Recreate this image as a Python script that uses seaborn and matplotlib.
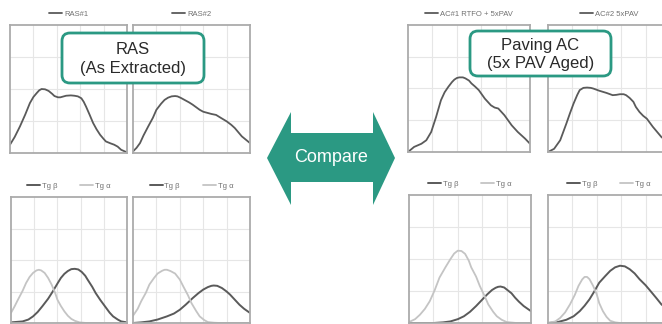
import numpy as np
import pandas as pd
import matplotlib
matplotlib.use("Agg")
import matplotlib.pyplot as plt
import seaborn as sns
from matplotlib.patches import Polygon, FancyBboxPatch

# ---- data (x: 0-100 across a panel, y: 0-4 grid rows) ----
ras1_x = [0, 4, 8.5, 13, 17, 20, 23, 25, 27, 30, 33, 36, 38, 41, 43, 46, 48, 52, 55, 58, 61, 63, 65, 68, 71, 74, 77, 80, 82, 86, 89, 92, 95, 100]
ras1_y = [0.26, 0.5, 0.83, 1.2, 1.56, 1.75, 1.88, 1.96, 2.0, 1.99, 1.94, 1.85, 1.78, 1.74, 1.74, 1.77, 1.79, 1.8, 1.79, 1.77, 1.71, 1.6, 1.45, 1.2, 0.94, 0.74, 0.57, 0.44, 0.36, 0.3, 0.26, 0.2, 0.10, 0.02]

ras2_x = [0, 3, 6, 9, 13, 17, 20, 24, 27, 30, 33, 36, 38, 41, 44, 48, 51, 54, 57, 60, 64, 67, 71, 75, 80, 84, 87, 90, 93, 97, 100]
ras2_y = [0.05, 0.16, 0.31, 0.55, 0.83, 1.1, 1.35, 1.54, 1.66, 1.73, 1.77, 1.78, 1.77, 1.72, 1.66, 1.58, 1.51, 1.43, 1.35, 1.29, 1.25, 1.22, 1.19, 1.1, 0.99, 0.88, 0.78, 0.65, 0.52, 0.4, 0.31]

ac1_x = [0, 5, 11, 15, 19, 23, 27, 30, 33, 36, 38, 40, 42, 45, 47, 50, 52, 55, 58, 63, 68, 71, 74, 79, 82, 85, 90, 96, 100]
ac1_y = [0.0, 0.16, 0.26, 0.37, 0.63, 1.1, 1.63, 1.88, 2.05, 2.2, 2.28, 2.33, 2.35, 2.35, 2.32, 2.25, 2.16, 2.06, 1.95, 1.68, 1.47, 1.4, 1.37, 1.16, 1.0, 0.84, 0.63, 0.42, 0.26]

ac2_x = [0, 5, 10, 15, 18, 21, 24, 26, 29, 32, 35, 37, 42, 48, 53, 56, 59, 62, 64, 67, 70, 72, 75, 78, 81, 86, 93, 100]
ac2_y = [0.0, 0.1, 0.37, 0.89, 1.22, 1.53, 1.8, 1.95, 2.02, 2.03, 2.02, 2.0, 1.93, 1.86, 1.79, 1.8, 1.82, 1.82, 1.79, 1.7, 1.58, 1.42, 1.26, 1.14, 1.05, 0.79, 0.47, 0.26]

# Tg curves for the four lower panels
ras1_beta_x = [0, 10, 15, 19, 23, 27, 32, 36, 40, 43, 46, 49, 52, 55, 58, 61, 64, 66, 70, 73, 77, 81, 85, 88, 92, 95, 100]
ras1_beta_y = [0.02, 0.05, 0.11, 0.21, 0.35, 0.53, 0.77, 1.0, 1.25, 1.43, 1.56, 1.65, 1.71, 1.72, 1.7, 1.62, 1.5, 1.38, 1.15, 0.95, 0.73, 0.53, 0.33, 0.21, 0.11, 0.05, 0.02]
ras1_alpha_x = [0, 3, 6, 10, 13, 16, 19, 22, 24, 26, 29, 32, 35, 38, 40, 43, 46, 49, 52, 55, 59, 65, 71, 100]
ras1_alpha_y = [0.32, 0.52, 0.74, 1.02, 1.27, 1.46, 1.59, 1.67, 1.69, 1.67, 1.59, 1.43, 1.22, 0.96, 0.74, 0.54, 0.37, 0.23, 0.13, 0.07, 0.02, 0.0, 0.0, 0.0]

ras2_beta_x = [0, 7, 14, 21, 29, 35, 40, 45, 51, 56, 60, 64, 67, 69, 72, 76, 80, 83, 87, 91, 95, 100]
ras2_beta_y = [0.0, 0.02, 0.05, 0.11, 0.21, 0.3, 0.42, 0.58, 0.79, 0.95, 1.06, 1.14, 1.18, 1.19, 1.18, 1.11, 1.0, 0.9, 0.74, 0.58, 0.45, 0.32]
ras2_alpha_x = [0, 4, 7, 11, 14, 18, 21, 25, 27, 29, 32, 36, 40, 43, 47, 50, 54, 57, 61, 64, 69, 74, 100]
ras2_alpha_y = [0.23, 0.45, 0.69, 0.96, 1.22, 1.43, 1.57, 1.66, 1.69, 1.69, 1.65, 1.57, 1.38, 1.16, 0.88, 0.63, 0.38, 0.21, 0.09, 0.03, 0.01, 0.0, 0.0]

ac1_beta_x = [0, 20, 28, 34, 40, 45, 50, 55, 60, 64, 68, 71, 73, 75, 78, 80, 84, 87, 90, 94, 100]
ac1_beta_y = [0.0, 0.0, 0.02, 0.05, 0.12, 0.21, 0.35, 0.53, 0.73, 0.89, 1.03, 1.1, 1.13, 1.14, 1.11, 1.05, 0.93, 0.79, 0.67, 0.53, 0.37]
ac1_alpha_x = [0, 5, 9, 13, 17, 21, 25, 30, 34, 37, 40, 43, 46, 49, 51, 55, 58, 62, 65, 69, 72, 76, 80, 88, 100]
ac1_alpha_y = [0.03, 0.12, 0.26, 0.44, 0.68, 1.02, 1.42, 1.75, 2.0, 2.17, 2.26, 2.25, 2.16, 1.95, 1.74, 1.45, 1.16, 0.84, 0.58, 0.35, 0.21, 0.1, 0.03, 0.0, 0.0]

ac2_beta_x = [0, 8, 15, 21, 26, 30, 34, 38, 42, 47, 51, 55, 59, 63, 67, 71, 75, 80, 84, 89, 93, 100]
ac2_beta_y = [0.0, 0.03, 0.1, 0.21, 0.37, 0.54, 0.74, 0.99, 1.26, 1.47, 1.63, 1.74, 1.79, 1.77, 1.68, 1.55, 1.37, 1.18, 1.0, 0.77, 0.58, 0.37]
ac2_alpha_x = [0, 6, 10, 14, 18, 22, 25, 28, 30, 32, 34, 37, 40, 42, 45, 48, 51, 55, 59, 100]
ac2_alpha_y = [0.0, 0.05, 0.16, 0.33, 0.58, 0.88, 1.16, 1.36, 1.44, 1.44, 1.37, 1.16, 0.89, 0.62, 0.37, 0.19, 0.07, 0.02, 0.0, 0.0]

top_labels = ["RAS#1", "RAS#2", "AC#1 RTFO + 5xPAV", "AC#2 5xPAV"]
box_texts = ["RAS\n(As Extracted)", "Paving AC\n(5x PAV Aged)"]
arrow_text = "Compare"

DARK = "#5a5a5a"
LIGHT = "#c4c4c4"
TEAL = "#2b9983"
FRAME = "#ababab"
GRID = "#e6e6e6"

W, H = 662, 324

sns.set_theme(style="white")
plt.rcParams["font.family"] = ["Liberation Sans", "DejaVu Sans"]

fig = plt.figure(figsize=(W / 100, H / 100), dpi=100)


def panel(x0, x1, y0, y1):
    ax = fig.add_axes([x0 / W, 1 - y1 / H, (x1 - x0) / W, (y1 - y0) / H])
    ax.set_xlim(0, 100)
    ax.set_ylim(0, 4)
    ax.set_xticks([20, 40, 60, 80])
    ax.set_yticks([1, 2, 3])
    ax.grid(True, color=GRID, lw=0.8)
    ax.tick_params(length=0, labelbottom=False, labelleft=False)
    for s in ax.spines.values():
        s.set_color(FRAME)
        s.set_linewidth(1.3)
    return ax


def legend_above(ax):
    ax.legend(loc="lower center", bbox_to_anchor=(0.5, 1.02), ncol=2, frameon=False,
              fontsize=5.5, handlelength=1.7, handletextpad=0.25, columnspacing=3.0,
              borderaxespad=0.2, labelcolor="#707070")


# top row: extracted / aged spectra
top = [
    ((10, 127, 25, 153), ras1_x, ras1_y, top_labels[0]),
    ((133, 250, 25, 153), ras2_x, ras2_y, top_labels[1]),
    ((408, 530, 25, 152), ac1_x, ac1_y, top_labels[2]),
    ((548, 670, 25, 152), ac2_x, ac2_y, top_labels[3]),
]
for pos, xs, ys, lab in top:
    ax = panel(*pos)
    df = pd.DataFrame({"x": xs, "y": ys})
    sns.lineplot(data=df, x="x", y="y", ax=ax, color=DARK, lw=1.3, label=lab)
    ax.set_xlabel("")
    ax.set_ylabel("")
    legend_above(ax)

# bottom row: Tg beta / Tg alpha
bottom = [
    ((11, 127, 197, 323), ras1_beta_x, ras1_beta_y, ras1_alpha_x, ras1_alpha_y),
    ((133, 250, 197, 323), ras2_beta_x, ras2_beta_y, ras2_alpha_x, ras2_alpha_y),
    ((409, 531, 195, 323), ac1_beta_x, ac1_beta_y, ac1_alpha_x, ac1_alpha_y),
    ((548, 670, 195, 323), ac2_beta_x, ac2_beta_y, ac2_alpha_x, ac2_alpha_y),
]
for pos, bx, by, axx, ayy in bottom:
    ax = panel(*pos)
    sns.lineplot(x=bx, y=by, ax=ax, color=DARK, lw=1.4, label="Tg β")
    sns.lineplot(x=axx, y=ayy, ax=ax, color=LIGHT, lw=1.3, label="Tg α")
    ax.set_xlabel("")
    ax.set_ylabel("")
    legend_above(ax)

# overlay in pixel space for the call-out boxes and the arrow
ov = fig.add_axes([0, 0, 1, 1])
ov.set_xlim(0, W)
ov.set_ylim(H, 0)
ov.axis("off")
ov.patch.set_alpha(0)

arrow = Polygon([(267, 158), (291, 112), (291, 133), (373, 133), (373, 112), (395, 158),
                 (373, 205), (373, 182), (291, 182), (291, 205)],
                closed=True, fc=TEAL, ec="none")
ov.add_patch(arrow)
ov.text(331, 158, arrow_text, color="white", fontsize=13, ha="center", va="center")

for (bx0, bx1, by0, by1), txt in zip([(62, 204, 33, 83), (470, 611, 31, 76)], box_texts):
    r = 8
    box = FancyBboxPatch((bx0 + r, by0 + r), bx1 - bx0 - 2 * r, by1 - by0 - 2 * r,
                         boxstyle=f"round,pad={r}", fc="white", ec=TEAL, lw=2.0)
    ov.add_patch(box)
    ov.text((bx0 + bx1) / 2, (by0 + by1) / 2 + 1, txt, fontsize=12, ha="center",
            va="center", color="#2a2a2a", linespacing=1.25)

fig.savefig("out.png", dpi=100)
